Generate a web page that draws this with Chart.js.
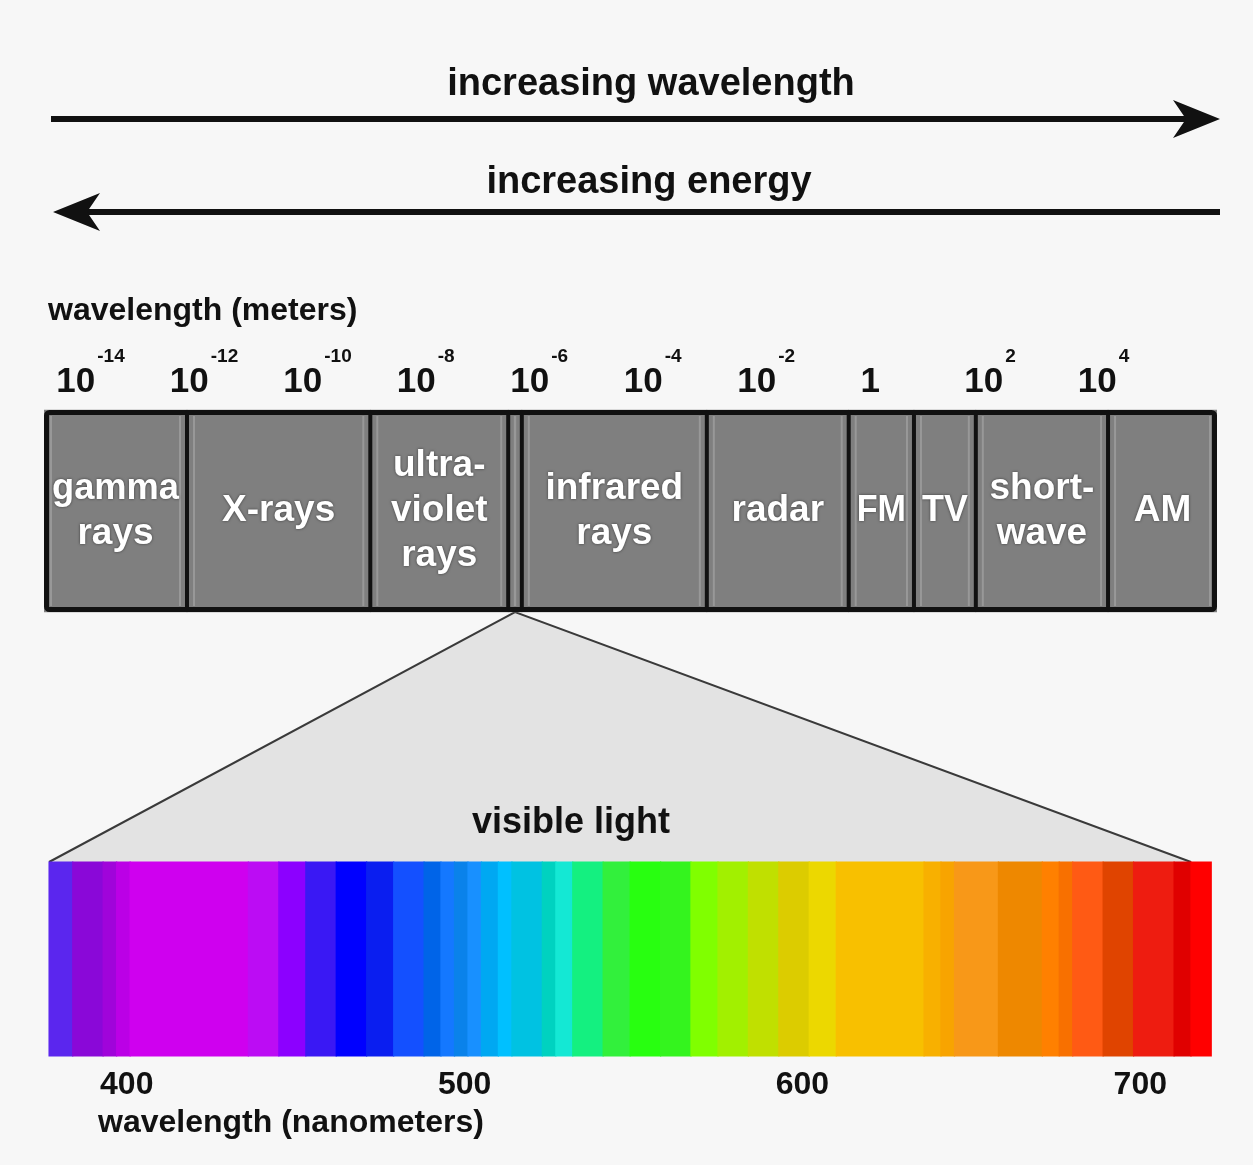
<!DOCTYPE html>
<html>
<head>
<meta charset="utf-8">
<title>Electromagnetic spectrum</title>
<script src="https://cdn.jsdelivr.net/npm/chart.js@4.4.1/dist/chart.umd.min.js"></script>
<style>
  html, body { margin: 0; padding: 0; background: #f7f7f7; }
  #chart { display: block; }
</style>
</head>
<body>
<canvas id="chart" width="1253" height="1165"></canvas>
<script>
// regions of the spectrum, edges in log10(metres)
const bandNames = ['gamma\nrays', 'X-rays', 'ultra-\nviolet\nrays', '', 'infrared\nrays', 'radar', 'FM', 'TV', 'short-\nwave', 'AM'];
const bandEdges = [-14.56, -12.04, -8.81, -6.38, -6.14, -2.88, -0.38, 0.77, 1.86, 4.19, 6.11];
const meterTicks = [-14, -12, -10, -8, -6, -4, -2, 0, 2, 4];

// visible light, colour band edges in nanometres
const colorEdges = [377, 384, 393, 397, 401, 436, 445, 453, 462, 471, 479, 488, 493, 497, 501, 505, 510, 514,
  523, 527, 532, 541, 549, 558, 567, 575, 584, 593, 602, 610, 636, 641, 645, 658, 671, 676, 680, 689, 698, 710, 715, 721];
const colorFills = ['#5b26ee', '#8a08d8', '#a004da', '#bb00e6', '#cf00ef', '#bc0cf4', '#8c00ff', '#3a18f4', '#0000ff',
  '#0a1ef0', '#1450ff', '#0064e8', '#1478ff', '#0a82ea', '#1890ff', '#00a8f2', '#00c0ff', '#00c2e2', '#00d2c0',
  '#14e8d4', '#14f080', '#32f03c', '#28ff10', '#34f41e', '#80ff00', '#a2f000', '#c0e000', '#dccc00', '#ecd800',
  '#f8c000', '#f8b000', '#f8a400', '#f89818', '#ee8800', '#ff8000', '#f87000', '#ff5a14', '#e04400', '#ee1c10',
  '#e00000', '#ff0000'];
const nmTicks = [400, 500, 600, 700];

const FONT = '"Liberation Sans", Arial, sans-serif';
const INK = '#111111';

function drawArrow(ctx, x1, x2, y) {
  // line from x1 to x2, head at x2
  const dir = x2 > x1 ? 1 : -1;
  ctx.save();
  ctx.strokeStyle = INK;
  ctx.fillStyle = INK;
  ctx.lineWidth = 6;
  ctx.beginPath();
  ctx.moveTo(x1, y);
  ctx.lineTo(x2 - dir * 20, y);
  ctx.stroke();
  ctx.beginPath();
  ctx.moveTo(x2, y);
  ctx.lineTo(x2 - dir * 47, y - 19);
  ctx.lineTo(x2 - dir * 34, y);
  ctx.lineTo(x2 - dir * 47, y + 19);
  ctx.closePath();
  ctx.fill();
  ctx.restore();
}

const decor = {
  id: 'decor',
  beforeDatasetsDraw(chart) {
    const ctx = chart.ctx;
    const xm = chart.scales.xm;
    const xnm = chart.scales.xnm;
    const y = chart.scales.y;
    const apexX = xm.getPixelForValue((bandEdges[3] + bandEdges[4]) / 2);
    const apexY = y.getPixelForValue(0) + 101;
    const baseY = y.getPixelForValue(2) - 97;
    const leftX = xnm.getPixelForValue(colorEdges[0]);
    const rightX = xnm.getPixelForValue(715);

    ctx.save();
    ctx.fillStyle = '#e3e3e3';
    ctx.beginPath();
    ctx.moveTo(apexX, apexY);
    ctx.lineTo(rightX, baseY);
    ctx.lineTo(leftX, baseY);
    ctx.closePath();
    ctx.fill();
    ctx.strokeStyle = '#3a3a3a';
    ctx.lineWidth = 2;
    ctx.beginPath();
    ctx.moveTo(leftX, baseY);
    ctx.lineTo(apexX, apexY);
    ctx.lineTo(rightX, baseY);
    ctx.stroke();
    ctx.restore();
  },
  afterDatasetsDraw(chart) {
    const ctx = chart.ctx;
    const xm = chart.scales.xm;
    const xnm = chart.scales.xnm;
    const y = chart.scales.y;
    const bars = chart.getDatasetMeta(0).data;

    // light bevel inside each region, dividers and outer frame of the gray box
    const left = xm.getPixelForValue(bandEdges[0]);
    const right = xm.getPixelForValue(bandEdges[bandEdges.length - 1]);
    const top = y.getPixelForValue(0) - 101;
    const bottom = y.getPixelForValue(0) + 101;
    ctx.save();
    ctx.strokeStyle = '#989898';
    ctx.lineWidth = 2;
    bandEdges.forEach((e, i) => {
      const px = xm.getPixelForValue(e);
      [i > 0 ? -7 : null, i < bandEdges.length - 1 ? 7 : null].forEach(d => {
        if (d === null) return;
        ctx.beginPath();
        ctx.moveTo(px + d, top + 6);
        ctx.lineTo(px + d, bottom - 6);
        ctx.stroke();
      });
    });
    ctx.strokeStyle = INK;
    ctx.lineWidth = 4;
    bandEdges.slice(1, -1).forEach(e => {
      const px = xm.getPixelForValue(e);
      ctx.beginPath();
      ctx.moveTo(px, top);
      ctx.lineTo(px, bottom);
      ctx.stroke();
    });
    ctx.lineWidth = 5;
    ctx.beginPath();
    ctx.roundRect(left + 2.5, top + 2.5, right - left - 5, bottom - top - 5, 3);
    ctx.stroke();
    ctx.restore();

    // region names
    ctx.save();
    ctx.font = 'bold 37px ' + FONT;
    ctx.fillStyle = '#ffffff';
    ctx.textAlign = 'center';
    ctx.textBaseline = 'middle';
    ctx.shadowColor = 'rgba(0,0,0,0.55)';
    ctx.shadowBlur = 3;
    bandNames.forEach((name, i) => {
      const lines = name ? name.split('\n') : [];
      const a = xm.getPixelForValue(bandEdges[i]);
      const b = xm.getPixelForValue(bandEdges[i + 1]);
      const cy = bars[i].getProps(['y'], true).y;
      const lh = 45;
      lines.forEach((t, j) => {
        ctx.fillText(t, (a + b) / 2, cy + (j - (lines.length - 1) / 2) * lh, b - a - 16);
      });
    });
    ctx.restore();

    ctx.save();
    ctx.fillStyle = INK;

    // ticks in metres, 10 with a superscript exponent
    meterTicks.forEach(e => {
      const px = xm.getPixelForValue(e);
      ctx.font = 'bold 35px ' + FONT;
      if (e === 0) {
        ctx.textAlign = 'center';
        ctx.fillText('1', px, 392);
        return;
      }
      const w = ctx.measureText('10').width;
      ctx.textAlign = 'left';
      ctx.fillText('10', px - w / 2, 392);
      ctx.font = 'bold 19px ' + FONT;
      ctx.fillText(String(e), px + w / 2 + 2, 362);
    });

    // ticks in nanometres
    ctx.font = 'bold 32px ' + FONT;
    ctx.textAlign = 'center';
    nmTicks.forEach(v => ctx.fillText(String(v), xnm.getPixelForValue(v), 1094));

    // titles
    ctx.font = 'bold 38px ' + FONT;
    ctx.fillText('increasing wavelength', 651, 95);
    ctx.fillText('increasing energy', 649, 193);
    ctx.font = 'bold 36px ' + FONT;
    ctx.fillText('visible light', 571, 833);
    ctx.font = 'bold 32px ' + FONT;
    ctx.textAlign = 'left';
    ctx.fillText('wavelength (meters)', 48, 320);
    ctx.fillText('wavelength (nanometers)', 98, 1132);
    ctx.restore();

    drawArrow(ctx, 51, 1220, 119);
    drawArrow(ctx, 1220, 53, 212);
  }
};

new Chart(document.getElementById('chart'), {
  type: 'bar',
  data: {
    datasets: [
      {
        label: 'wavelength (meters)',
        xAxisID: 'xm',
        yAxisID: 'y',
        data: bandNames.map((n, i) => ({ y: 'em', x: [bandEdges[i], bandEdges[i + 1]] })),
        backgroundColor: '#7f7f7f',
        borderWidth: 0,
        barThickness: 202
      },
      {
        label: 'visible light',
        xAxisID: 'xnm',
        yAxisID: 'y',
        data: colorFills.map((c, i) => ({ y: 'visible', x: [colorEdges[i], colorEdges[i + 1]] })),
        backgroundColor: colorFills,
        borderWidth: 0,
        inflateAmount: 0.6,
        barThickness: 194
      }
    ]
  },
  options: {
    indexAxis: 'y',
    responsive: false,
    animation: false,
    datasets: { bar: { grouped: false } },
    layout: { padding: { left: 44, right: 36, top: 399, bottom: 94 } },
    scales: {
      xm: { type: 'linear', axis: 'x', display: false, min: bandEdges[0], max: bandEdges[bandEdges.length - 1] },
      xnm: { type: 'linear', axis: 'x', display: false, min: 375.5, max: 722.7 },
      y: { type: 'category', labels: ['em', 'gap', 'visible'], offset: true, display: false }
    },
    plugins: {
      legend: { display: false },
      tooltip: { enabled: false }
    }
  },
  plugins: [decor]
});
</script>
</body>
</html>
